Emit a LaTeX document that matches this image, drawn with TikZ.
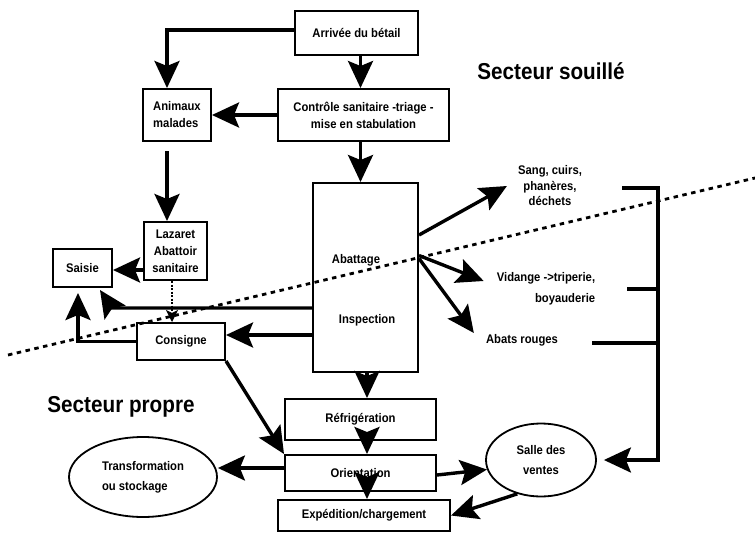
\documentclass[tikz,border=0pt]{standalone}
\usepackage{fontspec}
\setmainfont{Liberation Sans}
\newfontfamily\cf{Liberation Sans}[FakeStretch=0.9]
\usetikzlibrary{arrows.meta,shapes.geometric}
\tikzset{
  sfont/.style={font=\cf\bfseries\fontsize{12.5}{17}\selectfont},
  box/.style={draw, line width=2pt, inner sep=0pt, align=center, sfont},
  ell/.style={ellipse, draw, line width=1.8pt, inner sep=0pt, align=left, sfont},
  lab/.style={inner sep=0pt, align=center, sfont},
  bigfont/.style={inner sep=0pt, font=\cf\bfseries\fontsize{23}{26}\selectfont},
  flow/.style={line width=3.4pt, -{Stealth[length=27pt,width=25pt,inset=5pt]}},
  thinflow/.style={line width=1.3pt, dash pattern=on 2pt off 1.5pt, -{Stealth[length=12pt,width=12pt,inset=3pt]}},
  brk/.style={line width=3.4pt},
  dotline/.style={line width=2.8pt, dash pattern=on 4.5pt off 4.5pt}
}
\begin{document}
\begin{tikzpicture}[x=1pt,y=-1pt]
\useasboundingbox (0,0) rectangle (755,533);
% boxes
\node[box, minimum width=123pt, minimum height=44pt] (arr) at (356.5,33) {Arrivée du bétail};
\node[box, minimum width=68pt, minimum height=52pt, align=left] (mal) at (177,115) {Animaux\\malades};
\node[box, minimum width=171pt, minimum height=52pt] (ctl) at (363.5,115) {Contrôle sanitaire -triage -\\mise en stabulation};
\node[box, minimum width=105pt, minimum height=189pt] (abat) at (365.5,277.5) {};
\node[lab] (tabat) at (356,260) {Abattage};
\node[lab] (tinsp) at (367,320) {Inspection};
\node[box, minimum width=63pt, minimum height=58pt] (laz) at (175.5,251) {Lazaret\\Abattoir\\sanitaire};
\node[box, minimum width=59pt, minimum height=38pt] (sai) at (82.5,268) {Saisie};
\node[box, minimum width=88pt, minimum height=37pt] (con) at (181,341.5) {Consigne};
\node[box, minimum width=151pt, minimum height=41pt] (ref) at (360.5,419.5) {Réfrigération};
\node[box, minimum width=151pt, minimum height=36pt] (ori) at (360.5,473) {Orientation};
\node[box, minimum width=172pt, minimum height=31pt] (exp) at (364,515.5) {Expédition/chargement};
\node[ell, minimum width=148pt, minimum height=80pt, font=\cf\bfseries\fontsize{12.5}{20}\selectfont] (tra) at (143,477) {Transformation\\ou stockage};
\node[ell, minimum width=110pt, minimum height=73pt, align=center, font=\cf\bfseries\fontsize{12.5}{20}\selectfont] (sdv) at (541,460) {Salle des\\ventes};
% side labels
\node[lab, font=\cf\bfseries\fontsize{12.5}{15.5}\selectfont] (sang) at (550,186) {Sang, cuirs,\\phanères,\\déchets};
\node[lab, align=right, font=\cf\bfseries\fontsize{12.5}{21}\selectfont] (vid) at (546,289) {Vidange ->triperie,\\boyauderie};
\node[lab] (abats) at (522,340) {Abats rouges};
\node[bigfont] (ss) at (551,71) {Secteur souillé};
\node[bigfont] (sp) at (121,407) {Secteur propre};
% coordinates
\coordinate (k1) at (112,308);
\coordinate (k2) at (100,290);
\coordinate (b1) at (622,188);
\coordinate (b2) at (658,188);
\coordinate (b3) at (658,460);
\coordinate (m1) at (627,289);
\coordinate (m2) at (658,289);
\coordinate (n1) at (592,343);
\coordinate (n2) at (658,343);
\coordinate (d1) at (8,355);
\coordinate (d2) at (755,178);
% connectors
\draw[flow] ([yshift=3pt]arr.west) -| ([xshift=-10pt]mal.north);
\draw[flow] ([xshift=4pt]arr.south) -- ([xshift=4pt]arr.south |- ctl.north);
\draw[flow] (ctl.west) -- (ctl.west -| mal.east);
\draw[flow] ([xshift=-3pt]ctl.south) -- ([xshift=-3pt]ctl.south |- abat.north);
\draw[flow, shorten <=9pt] ([xshift=-10pt]mal.south) -- ([xshift=-10pt]mal.south |- laz.north);
\draw[flow] ([yshift=-19pt]laz.west) -- ([yshift=-19pt]laz.west -| sai.east);
\draw[thinflow] ([xshift=-3.5pt]laz.south) -- ([xshift=-3.5pt]laz.south |- con.north);
\draw[flow] ([yshift=-30.5pt]abat.west) -- (k1) -- (k2);
\draw[flow, shorten >=5pt] (con.west) -| ([xshift=-4.5pt]sai.south);
\draw[flow] ([yshift=-57.5pt]abat.west) -- ([yshift=-57.5pt]abat.west -| con.east);
\draw[flow] (con.south east) -- (ori.north west);
\draw[flow] ([xshift=1.5pt]abat.south) -- ([xshift=1.5pt]abat.south |- ref.north);
\draw[flow] ([xshift=6.5pt]ref.south) -- ([xshift=6.5pt]ref.south |- ori.north);
\draw[flow] ([xshift=6.5pt]ori.south) -- ([xshift=6.5pt]ori.south |- exp.north);
\draw[flow] ([yshift=5pt]ori.west) -- ([yshift=5pt]ori.west -| tra.east);
\draw[flow] ([yshift=-2pt]ori.east) -- (sdv.190);
\draw[flow] (sdv.235) -- (exp.east);
\draw[flow] ([yshift=42.5pt]abat.east) -- ([xshift=-11pt]sang.west);
\draw[flow] ([yshift=22pt]abat.east) -- ([xshift=-13pt,yshift=8pt]vid.west);
\draw[flow] ([yshift=19pt]abat.east) -- ([xshift=-12pt,yshift=7pt]abats.west);
\draw[brk] (b1) -- (b2) -- (b3);
\draw[brk] (m1) -- (m2);
\draw[brk] (n1) -- (n2);
\draw[flow, shorten >=7pt] (b2) -- (b3) -- (sdv.east);
\draw[dotline] (d1) -- (d2);
\end{tikzpicture}
\end{document}
